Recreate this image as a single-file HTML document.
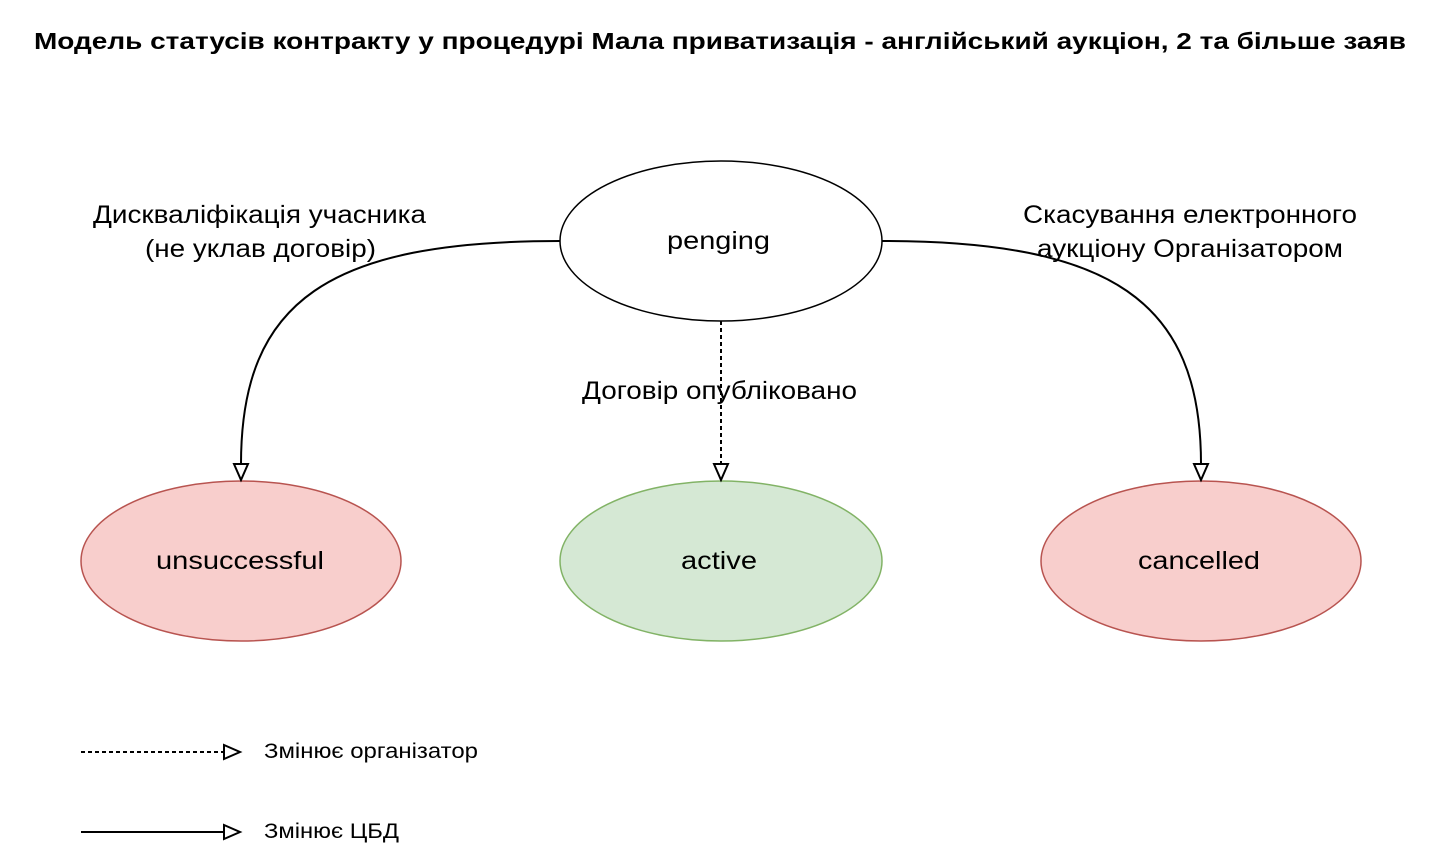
<!DOCTYPE html>
<html><head><meta charset="utf-8"><style>
html,body{margin:0;padding:0;background:#fff;}
svg{display:block;}
text{font-family:"Liberation Sans","DejaVu Sans",sans-serif;}
</style></head><body>
<svg width="1442" height="864" viewBox="0 0 1442 864" xmlns="http://www.w3.org/2000/svg">
<text x="34" y="49" font-size="23" font-weight="bold" fill="#000" textLength="1372" lengthAdjust="spacingAndGlyphs">Модель статусів контракту у процедурі Мала приватизація - англійський аукціон, 2 та більше заяв</text>

<ellipse cx="721" cy="241" rx="161" ry="80" fill="#fff" stroke="#000" stroke-width="1.5"/>
<text x="667" y="249" font-size="25" textLength="103" lengthAdjust="spacingAndGlyphs">penging</text>

<ellipse cx="241" cy="561" rx="160" ry="80" fill="#f8cecc" stroke="#b85450" stroke-width="1.5"/>
<text x="156" y="569" font-size="25" textLength="168" lengthAdjust="spacingAndGlyphs">unsuccessful</text>

<ellipse cx="721" cy="561" rx="161" ry="80" fill="#d5e8d4" stroke="#82b366" stroke-width="1.5"/>
<text x="681" y="569" font-size="25" textLength="76" lengthAdjust="spacingAndGlyphs">active</text>

<ellipse cx="1201" cy="561" rx="160" ry="80" fill="#f8cecc" stroke="#b85450" stroke-width="1.5"/>
<text x="1138" y="569" font-size="25" textLength="122" lengthAdjust="spacingAndGlyphs">cancelled</text>

<path d="M560 241 C 330 241, 241 300, 241 464" fill="none" stroke="#000" stroke-width="2"/>
<polygon points="234,464 248,464 241,480" fill="#fff" stroke="#000" stroke-width="2"/>

<path d="M882 241 C 1110 241, 1201 300, 1201 464" fill="none" stroke="#000" stroke-width="2"/>
<polygon points="1194,464 1208,464 1201,480" fill="#fff" stroke="#000" stroke-width="2"/>

<line x1="721" y1="321" x2="721" y2="464" stroke="#000" stroke-width="2" stroke-dasharray="4 3"/>
<polygon points="714,464 728,464 721,480" fill="#fff" stroke="#000" stroke-width="2"/>

<text x="582" y="399" font-size="25" textLength="275" lengthAdjust="spacingAndGlyphs">Договір опубліковано</text>

<text x="93" y="223" font-size="25" textLength="333" lengthAdjust="spacingAndGlyphs">Дискваліфікація учасника</text>
<text x="145" y="257" font-size="25" textLength="231" lengthAdjust="spacingAndGlyphs">(не уклав договір)</text>

<text x="1023" y="223" font-size="25" textLength="334" lengthAdjust="spacingAndGlyphs">Скасування електронного</text>
<text x="1037" y="257" font-size="25" textLength="306" lengthAdjust="spacingAndGlyphs">аукціону Організатором</text>

<line x1="81" y1="752" x2="224" y2="752" stroke="#000" stroke-width="2" stroke-dasharray="4 3"/>
<polygon points="224,745 224,759 240,752" fill="#fff" stroke="#000" stroke-width="2"/>
<text x="264" y="758" font-size="21" textLength="214" lengthAdjust="spacingAndGlyphs">Змінює організатор</text>

<line x1="81" y1="832" x2="224" y2="832" stroke="#000" stroke-width="2"/>
<polygon points="224,825 224,839 240,832" fill="#fff" stroke="#000" stroke-width="2"/>
<text x="264" y="838" font-size="21" textLength="135" lengthAdjust="spacingAndGlyphs">Змінює ЦБД</text>
</svg>
</body></html>
